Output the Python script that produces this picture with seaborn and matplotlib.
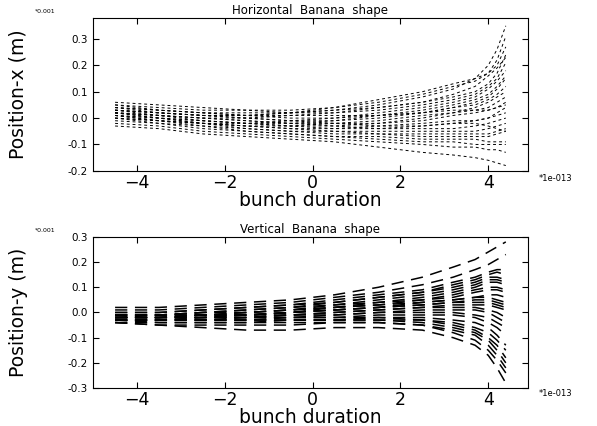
import pandas as pd
import numpy as np
import seaborn as sns
import matplotlib.pyplot as plt
from matplotlib.ticker import FormatStrFormatter

# bunch duration (units of 1e-13), sample positions along the bunch
t = [-4.5, -3.5, -2.5, -1.5, -0.5, 0.5, 1.5, 2.5, 3.2, 3.7, 4.0, 4.2, 4.4]

# horizontal position of each slice trace (units of 0.001 m)
horiz = [
    [0.04, 0.03, 0.02, 0.02, 0.02, 0.03, 0.05, 0.08, 0.11, 0.15, 0.20, 0.26, 0.35],
    [0.05, 0.04, 0.03, 0.03, 0.03, 0.04, 0.06, 0.09, 0.12, 0.14, 0.17, 0.22, 0.31],
    [0.03, 0.02, 0.01, 0.01, 0.02, 0.04, 0.07, 0.10, 0.13, 0.15, 0.17, 0.20, 0.27],
    [0.02, 0.01, 0.00, 0.00, 0.01, 0.02, 0.04, 0.06, 0.08, 0.10, 0.13, 0.17, 0.24],
    [0.06, 0.05, 0.04, 0.03, 0.02, 0.02, 0.03, 0.05, 0.07, 0.09, 0.12, 0.15, 0.21],
    [0.01, 0.00, -0.01, -0.02, -0.01, 0.00, 0.02, 0.04, 0.06, 0.08, 0.11, 0.14, 0.18],
    [0.03, 0.02, 0.01, 0.00, -0.01, -0.01, 0.00, 0.02, 0.04, 0.06, 0.08, 0.11, 0.15],
    [0.04, 0.03, 0.02, 0.01, 0.00, 0.00, 0.01, 0.02, 0.04, 0.05, 0.07, 0.09, 0.12],
    [0.02, 0.01, -0.01, -0.02, -0.03, -0.03, -0.02, 0.00, 0.02, 0.04, 0.06, 0.08, 0.10],
    [0.00, -0.01, -0.02, -0.03, -0.03, -0.02, -0.01, 0.01, 0.02, 0.03, 0.04, 0.06, 0.08],
    [0.03, 0.02, 0.01, 0.00, -0.01, -0.02, -0.02, -0.01, 0.01, 0.02, 0.03, 0.04, 0.06],
    [0.05, 0.03, 0.02, 0.01, 0.01, 0.01, 0.01, 0.02, 0.03, 0.03, 0.03, 0.04, 0.05],
    [0.02, 0.00, -0.01, -0.02, -0.03, -0.04, -0.04, -0.03, -0.02, -0.01, 0.00, 0.02, 0.04],
    [0.01, 0.00, -0.02, -0.03, -0.04, -0.04, -0.03, -0.02, -0.01, -0.01, 0.00, 0.01, 0.02],
    [0.03, 0.01, 0.00, -0.01, -0.02, -0.03, -0.04, -0.04, -0.04, -0.03, -0.02, -0.01, 0.00],
    [0.00, -0.01, -0.03, -0.04, -0.05, -0.05, -0.05, -0.05, -0.05, -0.05, -0.04, -0.03, -0.02],
    [0.02, 0.00, -0.02, -0.03, -0.04, -0.05, -0.06, -0.06, -0.06, -0.06, -0.06, -0.05, -0.04],
    [0.01, -0.01, -0.02, -0.04, -0.05, -0.06, -0.06, -0.07, -0.07, -0.07, -0.07, -0.06, -0.05],
    [-0.01, -0.02, -0.04, -0.05, -0.06, -0.07, -0.07, -0.08, -0.08, -0.08, -0.09, -0.09, -0.09],
    [0.00, -0.02, -0.03, -0.05, -0.06, -0.07, -0.08, -0.09, -0.09, -0.10, -0.10, -0.10, -0.10],
    [-0.02, -0.03, -0.05, -0.06, -0.07, -0.08, -0.09, -0.10, -0.11, -0.11, -0.12, -0.12, -0.13],
    [-0.03, -0.04, -0.06, -0.07, -0.08, -0.09, -0.11, -0.13, -0.14, -0.15, -0.16, -0.17, -0.18],
    [0.04, 0.02, 0.01, 0.01, 0.02, 0.03, 0.04, 0.06, 0.09, 0.12, 0.16, 0.19, 0.23],
    [0.01, -0.01, -0.02, -0.02, -0.02, -0.01, 0.01, 0.03, 0.05, 0.07, 0.09, 0.12, 0.16],
    [0.02, 0.01, 0.00, -0.01, -0.02, -0.02, -0.03, -0.03, -0.02, -0.02, -0.03, -0.04, -0.05],
]

# vertical position of each slice trace (units of 0.001 m)
vert = [
    [0.02, 0.02, 0.03, 0.04, 0.05, 0.07, 0.10, 0.14, 0.18, 0.21, 0.24, 0.26, 0.28],
    [0.01, 0.01, 0.02, 0.03, 0.04, 0.06, 0.08, 0.11, 0.14, 0.17, 0.19, 0.21, 0.23],
    [0.00, 0.00, 0.01, 0.02, 0.03, 0.05, 0.07, 0.09, 0.12, 0.14, 0.16, 0.17, 0.17],
    [0.00, 0.00, 0.01, 0.02, 0.03, 0.04, 0.06, 0.08, 0.11, 0.13, 0.15, 0.16, 0.15],
    [-0.01, -0.01, 0.00, 0.01, 0.02, 0.04, 0.06, 0.08, 0.10, 0.12, 0.14, 0.14, 0.13],
    [-0.01, -0.01, 0.00, 0.01, 0.02, 0.03, 0.05, 0.07, 0.09, 0.11, 0.13, 0.13, 0.12],
    [-0.01, -0.01, -0.01, 0.00, 0.01, 0.03, 0.04, 0.06, 0.08, 0.10, 0.12, 0.12, 0.11],
    [-0.02, -0.01, -0.01, 0.00, 0.01, 0.02, 0.04, 0.05, 0.07, 0.09, 0.10, 0.10, 0.09],
    [-0.02, -0.02, -0.01, -0.01, 0.00, 0.02, 0.03, 0.05, 0.06, 0.08, 0.09, 0.09, 0.08],
    [-0.02, -0.02, -0.01, -0.01, 0.00, 0.01, 0.02, 0.04, 0.05, 0.06, 0.07, 0.07, 0.06],
    [-0.02, -0.02, -0.02, -0.01, 0.00, 0.01, 0.02, 0.03, 0.04, 0.05, 0.05, 0.04, 0.03],
    [-0.02, -0.02, -0.02, -0.01, -0.01, 0.00, 0.01, 0.02, 0.03, 0.03, 0.03, 0.02, 0.01],
    [-0.02, -0.02, -0.02, -0.02, -0.01, 0.00, 0.01, 0.02, 0.02, 0.02, 0.01, 0.00, -0.02],
    [-0.02, -0.02, -0.02, -0.02, -0.01, -0.01, 0.00, 0.01, 0.01, 0.01, 0.00, -0.02, -0.04],
    [-0.03, -0.03, -0.02, -0.02, -0.02, -0.01, 0.00, 0.00, 0.00, -0.01, -0.02, -0.04, -0.06],
    [-0.03, -0.03, -0.03, -0.02, -0.02, -0.02, -0.01, -0.01, -0.01, -0.02, -0.04, -0.06, -0.09],
    [-0.03, -0.03, -0.03, -0.03, -0.02, -0.02, -0.02, -0.02, -0.03, -0.04, -0.06, -0.09, -0.13],
    [-0.03, -0.03, -0.03, -0.03, -0.03, -0.03, -0.02, -0.03, -0.04, -0.06, -0.08, -0.11, -0.15],
    [-0.03, -0.03, -0.03, -0.03, -0.03, -0.03, -0.03, -0.03, -0.05, -0.07, -0.10, -0.13, -0.18],
    [-0.03, -0.04, -0.04, -0.04, -0.03, -0.03, -0.03, -0.04, -0.06, -0.08, -0.11, -0.15, -0.20],
    [-0.04, -0.04, -0.04, -0.04, -0.04, -0.04, -0.04, -0.05, -0.07, -0.09, -0.13, -0.17, -0.22],
    [-0.04, -0.05, -0.05, -0.05, -0.05, -0.04, -0.04, -0.05, -0.08, -0.11, -0.15, -0.19, -0.24],
    [-0.04, -0.05, -0.06, -0.07, -0.07, -0.06, -0.06, -0.07, -0.10, -0.13, -0.17, -0.22, -0.28],
    [-0.01, -0.01, 0.00, 0.00, 0.01, 0.02, 0.03, 0.04, 0.05, 0.06, 0.06, 0.05, 0.04],
    [-0.02, -0.02, -0.01, -0.01, 0.00, 0.01, 0.02, 0.03, 0.04, 0.04, 0.04, 0.03, 0.02],
]


def to_long(traces):
    rows = []
    for i, tr in enumerate(traces):
        for tt, v in zip(t, tr):
            rows.append({'line': i, 't': tt, 'pos': v})
    return pd.DataFrame(rows)


df_h = to_long(horiz)
df_v = to_long(vert)

sns.set_style('ticks')
plt.rcParams['font.family'] = ['DejaVu Sans']
plt.rcParams['axes.unicode_minus'] = False
for k in ['text.color', 'axes.labelcolor', 'xtick.color', 'ytick.color', 'axes.edgecolor']:
    plt.rcParams[k] = 'black'

fig = plt.figure(figsize=(5.97, 4.26), dpi=100)
ax1 = fig.add_axes([0.156, 0.599, 0.728, 0.359])
ax2 = fig.add_axes([0.156, 0.089, 0.728, 0.355])

sns.lineplot(data=df_h, x='t', y='pos', units='line', estimator=None,
             color='k', lw=0.7, linestyle=(0, (3, 3)), ax=ax1, legend=False)
sns.lineplot(data=df_v, x='t', y='pos', units='line', estimator=None,
             color='k', lw=1.1, linestyle=(0, (8, 5)), ax=ax2, legend=False)

for ax, lim, yl, title in [(ax1, (-0.2, 0.38), 'Position-x (m)', 'Horizontal  Banana  shape'),
                           (ax2, (-0.3, 0.3), 'Position-y (m)', 'Vertical  Banana  shape')]:
    ax.set_xlim(-5, 4.9)
    ax.set_ylim(*lim)
    ax.set_xticks([-4, -2, 0, 2, 4])
    ax.set_yticks(np.arange(lim[0], 0.31, 0.1))
    ax.yaxis.set_major_formatter(FormatStrFormatter('%.1f'))
    ax.tick_params(direction='in', top=True, right=True, length=4, width=0.8)
    ax.tick_params(axis='y', labelsize=7.5, pad=4)
    ax.tick_params(axis='x', labelsize=12.5, pad=2)
    ax.set_xticklabels(['\u22124', '\u22122', '0', '2', '4'])
    for s in ax.spines.values():
        s.set_linewidth(0.8)
    ax.set_title(title, fontsize=8.5, pad=3)
    ax.set_xlabel('bunch duration', fontsize=13.5, labelpad=0)
    ax.xaxis.set_label_coords(0.5, -0.13)
    ax.set_ylabel(yl, fontsize=13.5)
    ax.yaxis.set_label_coords(-0.15, 0.5)

fig.text(0.058, 0.972, '*0.001', fontsize=4.5, ha='left', va='center')
fig.text(0.058, 0.458, '*0.001', fontsize=4.5, ha='left', va='center')
fig.text(0.902, 0.582, '*1e-013', fontsize=6, ha='left', va='center')
fig.text(0.902, 0.077, '*1e-013', fontsize=6, ha='left', va='center')

plt.savefig('out.png', dpi=100)
